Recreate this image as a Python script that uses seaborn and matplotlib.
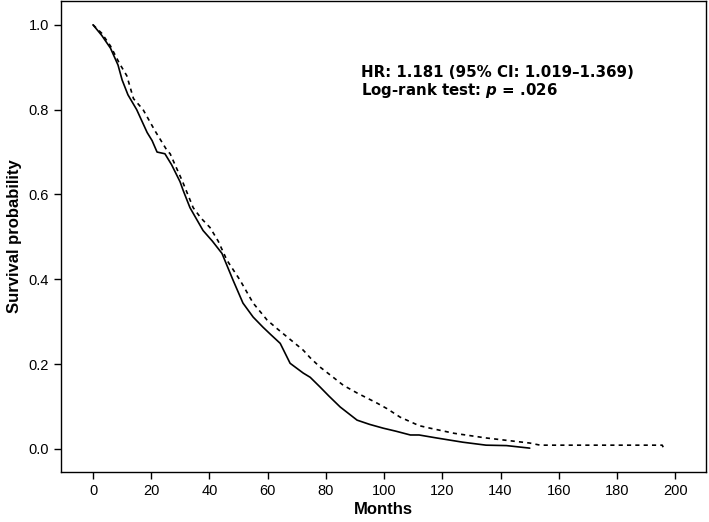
import pandas as pd
import seaborn as sns
import matplotlib.pyplot as plt

# Kaplan-Meier curves (months, survival probability)
solid_months = [0, 3, 6, 8.6, 10, 12, 15, 18.6, 20.3, 22, 24.7, 27, 29.9, 31, 33.3, 37.8,
                41, 44.3, 48.1, 51.5, 55, 58.4, 61, 64.3, 67.7, 72.2, 74.6, 78, 81,
                84.9, 90.7, 95, 99.7, 104, 109, 112, 118, 127, 135, 142, 150]
solid_surv = [1.0, 0.975, 0.945, 0.905, 0.87, 0.835, 0.80, 0.746, 0.727, 0.70, 0.696, 0.67,
              0.63, 0.609, 0.569, 0.515, 0.49, 0.461, 0.398, 0.344, 0.311, 0.287, 0.27,
              0.249, 0.202, 0.179, 0.169, 0.146, 0.125, 0.099, 0.068, 0.058, 0.049, 0.042,
              0.033, 0.033, 0.026, 0.016, 0.009, 0.008, 0.002]

dashed_months = [0, 3, 6, 9, 11.6, 13.9, 17.2, 21.3, 25.4, 26.5, 28.5, 30.6, 34.4, 37, 40.2,
                 43, 46, 50.5, 55, 59.8, 63, 66.7, 72.2, 74.6, 78, 82.5, 86, 90.7, 97.6,
                 101, 105.5, 112, 115.8, 124, 135, 150, 153.6, 170, 185, 195.5, 196]
dashed_surv = [1.0, 0.98, 0.95, 0.91, 0.88, 0.826, 0.80, 0.75, 0.704, 0.696, 0.665, 0.633,
               0.569, 0.545, 0.522, 0.49, 0.445, 0.398, 0.344, 0.304, 0.285, 0.264, 0.233,
               0.215, 0.193, 0.169, 0.15, 0.132, 0.108, 0.095, 0.075, 0.055, 0.049, 0.037,
               0.026, 0.014, 0.009, 0.009, 0.009, 0.009, 0.002]

df = pd.concat([
    pd.DataFrame({"Months": solid_months, "surv": solid_surv, "group": "A"}),
    pd.DataFrame({"Months": dashed_months, "surv": dashed_surv, "group": "B"}),
])

sns.set_style("ticks", {"text.color": "black", "axes.labelcolor": "black",
                        "xtick.color": "black", "ytick.color": "black",
                        "axes.edgecolor": "black"})
plt.rcParams["font.family"] = ["Liberation Sans", "DejaVu Sans"]

fig = plt.figure(figsize=(7.09, 5.22), dpi=100)
ax = fig.add_axes([0.086, 0.096, 0.91, 0.902])

sns.lineplot(data=df, x="Months", y="surv", style="group",
             dashes={"A": "", "B": (2.5, 2.5)}, color="black", linewidth=1.2,
             estimator=None, sort=False, legend=False, ax=ax)

ax.set_xlim(-11, 210.6)
ax.set_ylim(-0.054, 1.056)
ax.set_xticks(range(0, 201, 20))
ax.set_yticks([0.0, 0.2, 0.4, 0.6, 0.8, 1.0])
ax.set_yticklabels(["0.0", "0.2", "0.4", "0.6", "0.8", "1.0"])
ax.tick_params(direction="out", length=5, width=1, labelsize=10.5, colors="black")
for s in ax.spines.values():
    s.set_color("black")
    s.set_linewidth(1)

ax.set_xlabel("Months", fontsize=12, fontweight="bold", labelpad=3, color="black")
ax.set_ylabel("Survival probability", fontsize=12, fontweight="bold", labelpad=5, color="black")

ax.text(92, 0.905, "HR: 1.181 (95% CI: 1.019\u20131.369)\nLog-rank test: $\\boldsymbol{p}$ = .026",
        family="DejaVu Sans", fontweight="bold", fontsize=10.8, va="top", ha="left",
        linespacing=1.05, color="black")

fig.savefig("out.png", dpi=100)
